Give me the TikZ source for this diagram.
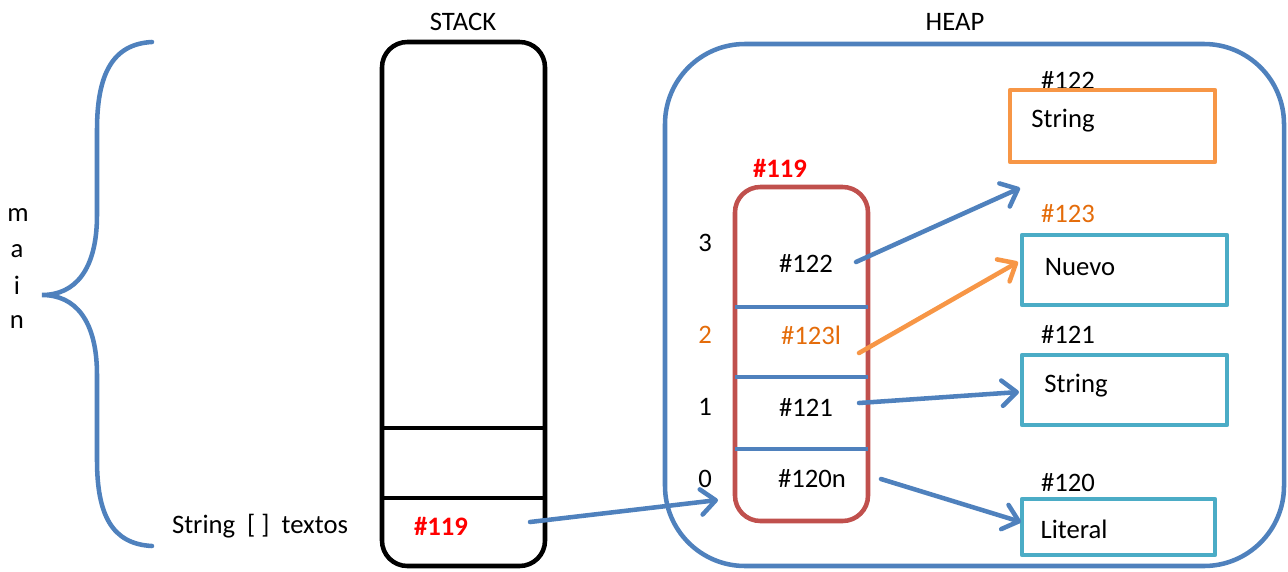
\documentclass[tikz,border=0pt]{standalone}
\usepackage{fontspec}
\setmainfont{Carlito}
\usetikzlibrary{arrows.meta}
\definecolor{heapblue}{HTML}{4F81BD}
\definecolor{arrred}{HTML}{C0504D}
\definecolor{objorange}{HTML}{F79646}
\definecolor{objteal}{HTML}{4BACC6}
\definecolor{idxorange}{HTML}{E46C0A}
\definecolor{addrred}{HTML}{FF0000}
\tikzset{
  txt/.style={inner sep=0pt, anchor=center},
  frame/.style={line width=3.4pt},
  ptr/.style={line width=3.4pt, heapblue, line cap=round,
    -{Straight Barb[length=11pt,width=19pt,round]}},
  objbox/.style={line width=3.4pt, line join=round},
}
\begin{document}
\begin{tikzpicture}[x=0.75pt,y=-0.75pt,font=\fontsize{20}{24}\selectfont]
\useasboundingbox (0,0) rectangle (1288,571);

% titles
\node[txt] (stacktitle) at (463,22) {STACK};
\node[txt] (heaptitle)  at (955,22) {HEAP};

% brace grouping the frame of main
\draw[heapblue, line width=3.4pt, line cap=round]
  (152,42) .. controls (112,44) and (97,75) .. (97,130)
  -- (97,215) .. controls (97,270) and (75,295) .. (42,295)
  .. controls (75,295) and (97,320) .. (97,375)
  -- (97,460) .. controls (97,515) and (112,544) .. (152,546);
\node[txt] (m) at (18,215) {m};
\node[txt] (a) at (17,251) {a};
\node[txt] (i) at (17,285) {i};
\node[txt] (n) at (17,322) {n};

% stack
\draw[frame, rounded corners=19pt] (382,42) rectangle (545,566);
\draw[frame] (382,428) -- (545,428);
\draw[frame] (382,498) -- (545,498);
\node[txt] (varname) at (260,526) {String \ [ ] \ textos};
\node[txt, text=addrred, font=\fontsize{20}{24}\selectfont\bfseries] (ref) at (441,526) {\#119};
\coordinate (refout) at (530,522);

% heap
\draw[heapblue, frame, rounded corners=60pt] (665,44) rectangle (1284,566);

% array object #119
\node[txt, text=addrred, font=\fontsize{20}{24}\selectfont\bfseries] (arrid) at (780,168) {\#119};
\draw[arrred, frame, rounded corners=19pt] (735,187) rectangle (868,521);
\draw[heapblue, frame] (735,307) -- (868,307);
\draw[heapblue, frame] (735,377) -- (868,377);
\draw[heapblue, frame] (735,449) -- (868,449);
\coordinate (arrin) at (718,500);

\node[txt] (i3) at (705,243) {3};
\node[txt, text=idxorange] (i2) at (705,335) {2};
\node[txt] (i1) at (705,407) {1};
\node[txt] (i0) at (705,479) {0};

\node[txt] (c3) at (806,263) {\#122};
\node[txt, text=idxorange] (c2) at (811,335) {\#123l};
\node[txt] (c1) at (806,407) {\#121};
\node[txt] (c0) at (812,479) {\#120n};

\coordinate (p3) at (856,262);
\coordinate (p2) at (859,353);
\coordinate (p1) at (859,403);
\coordinate (p0) at (881,479);

% string objects
\node[txt] (a122) at (1068,80) {\#122};
\draw[objorange, objbox] (1010,90) rectangle (1215,162);
\node[txt] (o122) at (1063,121) {String};

\node[txt, text=idxorange] (a123) at (1068,214) {\#123};
\draw[objteal, objbox] (1022,235) rectangle (1227,305);
\node[txt] (o123) at (1080,267) {Nuevo};

\node[txt] (a121) at (1068,334) {\#121};
\draw[objteal, objbox] (1022,355) rectangle (1227,425);
\node[txt] (o121) at (1076,386) {String};

\node[txt] (a120) at (1068,483) {\#120};
\draw[objteal, objbox] (1022,499) rectangle (1215,555);
\node[txt] (o120) at (1074,529) {Literal};

\coordinate (t3) at (1020,188);
\coordinate (t2) at (1018,262);
\coordinate (t1) at (1019,392);
\coordinate (t0) at (1021,522);

% references
\draw[ptr] (refout) -- (arrin);
\draw[ptr] (p3) -- (t3);
\draw[ptr, objorange] (p2) -- (t2);
\draw[ptr] (p1) -- (t1);
\draw[ptr] (p0) -- (t0);
\end{tikzpicture}
\end{document}
